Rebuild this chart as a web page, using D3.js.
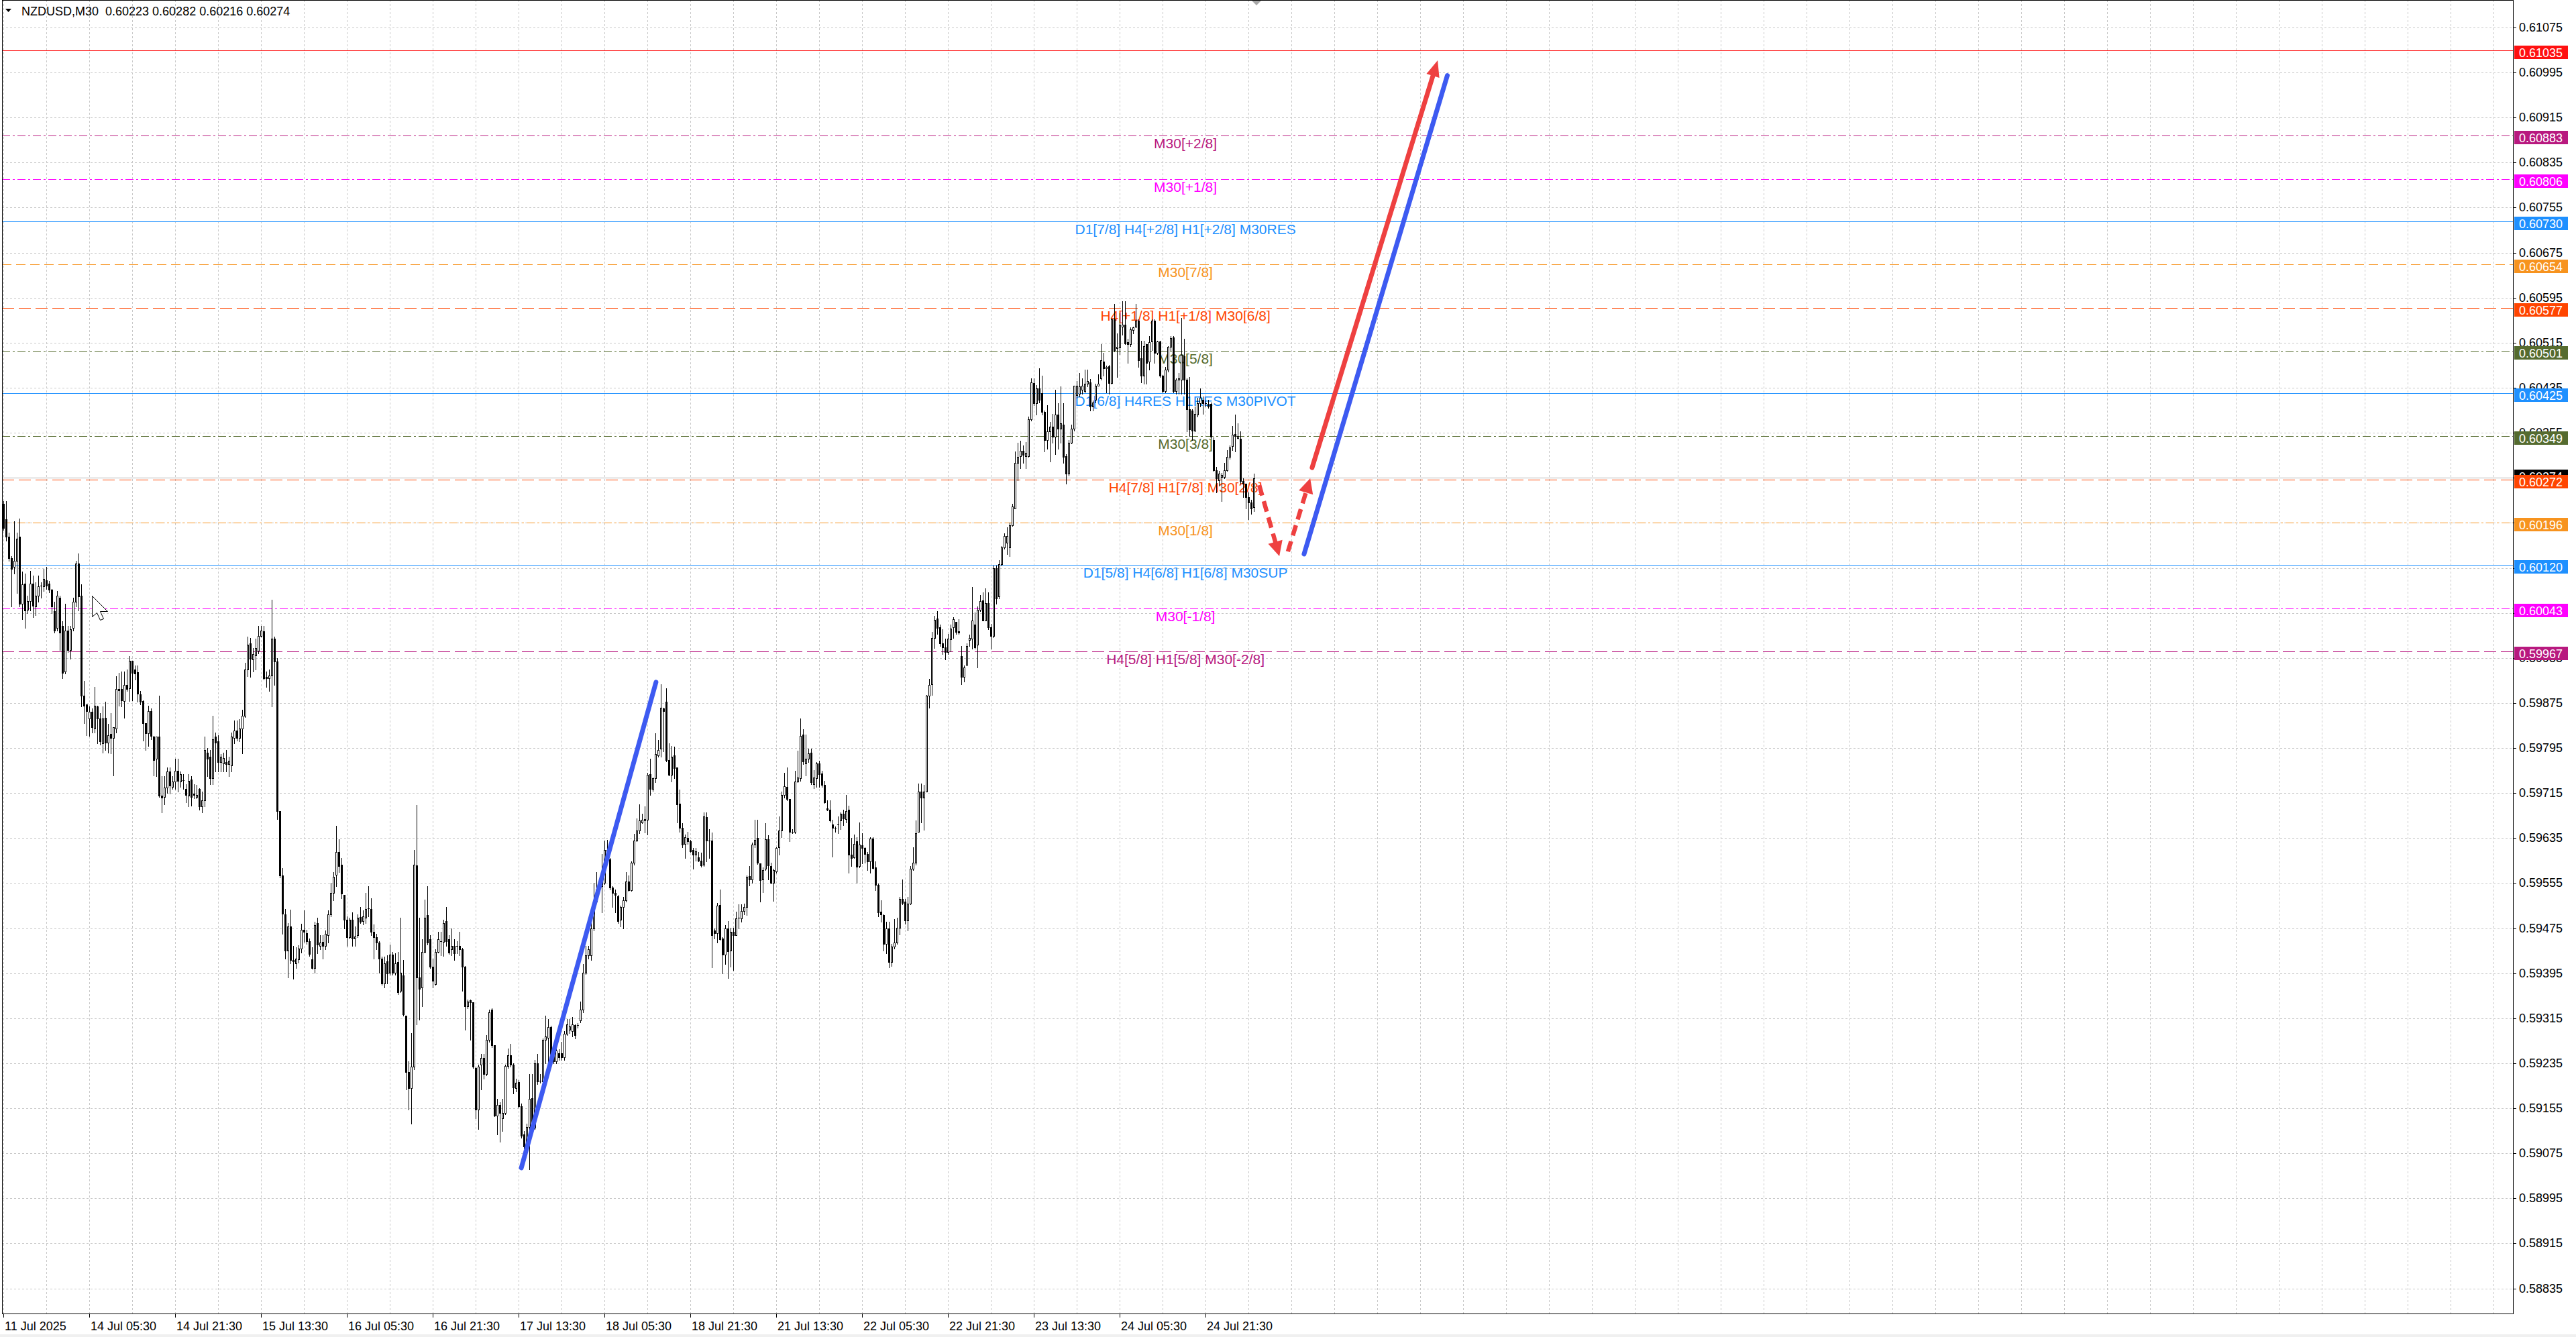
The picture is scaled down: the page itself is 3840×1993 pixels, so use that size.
<!DOCTYPE html>
<html><head><meta charset="utf-8">
<script src="https://cdn.jsdelivr.net/npm/d3@7"></script>
<style>html,body{margin:0;padding:0;background:#fff;overflow:hidden}</style>
</head><body>
<svg id="chart" width="3840" height="1993" xmlns="http://www.w3.org/2000/svg"></svg>
<script>
// ---------- DATA (prices in points: 60223 = 0.60223) ----------
const titleText = "NZDUSD,M30  0.60223 0.60282 0.60216 0.60274";
const opens = [
60229,60202,60171,60132,60117,60128,60171,60051,60087,60041,
60056,60087,60047,60066,60082,60082,60093,60087,60076,60038,
60008,60062,60012,59931,60004,59969,60008,60055,60123,60066,
59888,59873,59847,59859,59830,59869,59847,59803,59849,59805,
59820,59813,59830,59900,59900,59878,59907,59901,59950,59935,
59930,59890,59878,59839,59821,59861,59815,59776,59815,59710,
59708,59725,59753,59726,59735,59754,59736,59738,59722,59710,
59739,59714,59708,59722,59691,59702,59787,59780,59741,59815,
59807,59770,59768,59770,59766,59764,59813,59826,59813,59829,
59852,59935,59981,59952,59960,59968,59994,60002,59921,59919,
59924,59989,59949,59683,59568,59499,59435,59478,59418,59413,
59420,59439,59472,59466,59452,59420,59404,59484,59444,59450,
59443,59462,59500,59537,59570,59610,59588,59534,59490,59459,
59490,59456,59462,59495,59487,59493,59509,59509,59469,59459,
59449,59421,59377,59416,59396,59428,59396,59415,59364,59391,
59320,59219,59191,59229,59587,59387,59370,59433,59498,59455,
59406,59375,59433,59452,59450,59487,59455,59438,59444,59443,
59444,59437,59406,59336,59347,59343,59227,59153,59232,59244,
59216,59276,59330,59267,59142,59161,59137,59147,59230,59249,
59232,59191,59202,59159,59108,59089,59122,59173,59120,59235,
59204,59203,59276,59280,59299,59251,59238,59253,59253,59245,
59287,59295,59292,59303,59301,59311,59330,59396,59427,59427,
59474,59522,59544,59550,59556,59604,59597,59547,59537,59532,
59490,59512,59524,59558,59542,59591,59631,59649,59663,59666,
59668,59748,59722,59741,59782,59794,59865,59877,59774,59747,
59782,59760,59696,59653,59624,59635,59629,59614,59605,59601,
59595,59588,59672,59630,59630,59471,59466,59516,59457,59428,
59475,59435,59468,59463,59492,59492,59505,59512,59567,59561,
59623,59635,59590,59561,59580,59633,59585,59556,59576,59619,
59648,59711,59726,59704,59646,59646,59736,59741,59819,59768,
59776,59787,59731,59741,59768,59750,59729,59688,59685,59659,
59652,59659,59666,59678,59669,59685,59606,59601,59629,59585,
59622,59618,59607,59593,59634,59583,59552,59504,59498,59447,
59475,59415,59442,59449,59476,59527,59522,59489,59518,59580,
59591,59646,59718,59707,59717,59888,59908,59991,60025,60009,
59981,59974,59965,59988,60009,60019,60002,59958,59921,59943,
59987,59989,60014,59979,60041,60057,60022,60052,60009,59994,
60114,60064,60121,60151,60160,60151,60191,60221,60302,60314,
60323,60314,60313,60379,60443,60407,60434,60425,60392,60342,
60357,60366,60348,60387,60362,60369,60313,60282,60337,60362,
60422,60424,60432,60429,60442,60445,60402,60413,60439,60452,
60481,60469,60473,60443,60557,60505,60507,60544,60547,60516,
60512,60538,60544,60554,60487,60457,60512,60482,60517,60554,
60497,60517,60457,60429,60467,60508,60524,60429,60449,60449,
60491,60449,60397,60394,60359,60387,60407,60414,60406,60406,
60406,60342,60289,60271,60277,60277,60289,60312,60331,60353,
60346,60344,60269,60264,60241,60231,60223];
const highs = [
60233,60234,60178,60136,60198,60178,60203,60109,60105,60066,
60110,60101,60089,60101,60089,60113,60117,60092,60078,60055,
60074,60066,60020,60051,60012,60012,60062,60128,60141,60086,
59914,59873,59869,59865,59904,59870,59857,59869,59877,59838,
59857,59832,59923,59929,59931,59931,59935,59958,59950,59942,
59942,59896,59880,59839,59870,59865,59816,59815,59888,59745,
59745,59760,59760,59745,59776,59776,59753,59749,59731,59749,
59745,59731,59729,59723,59718,59815,59795,59791,59852,59822,
59818,59784,59787,59791,59780,59822,59844,59844,59846,59863,
59946,59993,59991,59973,59989,60012,60012,60012,59931,59935,
60058,59993,59955,59683,59582,59509,59484,59508,59443,59441,
59445,59483,59506,59472,59457,59441,59486,59493,59462,59462,
59471,59506,59556,59575,59657,59633,59600,59534,59496,59493,
59503,59478,59500,59512,59506,59537,59550,59528,59481,59465,
59452,59424,59424,59427,59446,59433,59430,59433,59493,59418,
59320,59238,59289,59614,59694,59493,59455,59526,59550,59463,
59421,59437,59469,59468,59490,59512,59462,59474,59455,59452,
59468,59440,59408,59348,59348,59343,59229,59232,59251,59251,
59285,59330,59333,59267,59172,59166,59172,59232,59261,59270,
59235,59207,59205,59163,59115,59128,59216,59216,59241,59251,
59216,59279,59320,59314,59301,59260,59270,59260,59273,59292,
59314,59314,59317,59304,59306,59345,59411,59443,59443,59487,
59556,59575,59563,59607,59631,59632,59600,59550,59544,59534,
59515,59530,59575,59569,59594,59643,59670,59695,59678,59691,
59751,59776,59743,59821,59809,59908,59867,59901,59803,59799,
59797,59761,59721,59661,59641,59646,59632,59617,59617,59610,
59609,59680,59680,59651,59645,59474,59520,59543,59459,59480,
59488,59476,59476,59504,59517,59517,59518,59568,59585,59627,
59668,59668,59590,59583,59661,59640,59591,59580,59619,59674,
59717,59751,59761,59704,59651,59755,59790,59847,59828,59819,
59794,59794,59756,59770,59772,59755,59737,59702,59702,59667,
59656,59673,59680,59685,59711,59693,59635,59641,59636,59663,
59644,59619,59610,59636,59636,59593,59554,59525,59499,59486,
59486,59447,59491,59493,59530,59561,59527,59530,59585,59619,
59666,59732,59732,59729,59889,59918,60001,60030,60038,60014,
60006,59989,59998,60014,60027,60019,60024,59976,59941,59981,
59996,60081,60036,60046,60067,60072,60079,60071,60016,60119,
60119,60129,60154,60176,60187,60196,60229,60322,60337,60341,
60332,60339,60384,60452,60452,60440,60469,60457,60394,60404,
60374,60389,60432,60407,60437,60407,60317,60342,60369,60439,
60447,60461,60452,60467,60467,60450,60412,60442,60459,60512,
60497,60474,60476,60559,60584,60532,60567,60589,60589,60522,
60542,60544,60584,60557,60519,60519,60513,60527,60557,60557,
60519,60519,60458,60472,60509,60527,60527,60452,60461,60559,
60522,60452,60454,60397,60402,60417,60434,60419,60412,60413,
60409,60347,60294,60287,60284,60302,60324,60332,60367,60387,
60372,60358,60274,60265,60249,60236,60282];
const lows = [
60182,60163,60128,60047,60105,60070,60047,60024,60008,60035,
60039,60027,60031,60055,60062,60074,60078,60072,60035,60000,
60004,59969,59919,59927,59965,59954,60004,60047,60039,59869,
59839,59818,59816,59822,59822,59803,59801,59787,59791,59787,
59785,59746,59822,59870,59869,59849,59896,59878,59880,59917,
59877,59873,59808,59791,59798,59811,59746,59745,59708,59680,
59695,59715,59714,59722,59722,59718,59726,59722,59698,59691,
59692,59706,59706,59685,59680,59691,59745,59731,59731,59753,
59753,59753,59753,59753,59745,59753,59803,59808,59807,59785,
59850,59923,59921,59931,59935,59963,59993,59917,59904,59896,
59869,59907,59669,59565,59465,59421,59387,59412,59385,59404,
59414,59431,59451,59447,59426,59403,59396,59430,59437,59421,
59437,59449,59496,59525,59550,59575,59528,59474,59443,59456,
59443,59443,59459,59484,59481,59484,59496,59462,59421,59437,
59396,59374,59370,59377,59392,59392,59392,59358,59361,59320,
59188,59153,59127,59224,59304,59312,59336,59432,59446,59404,
59369,59374,59432,59427,59425,59443,59429,59427,59418,59430,
59427,59364,59295,59333,59276,59226,59137,59118,59188,59207,
59213,59273,59263,59141,59109,59096,59115,59144,59226,59229,
59181,59185,59156,59103,59084,59084,59046,59115,59118,59198,
59200,59200,59235,59235,59232,59235,59235,59241,59241,59241,
59285,59289,59282,59279,59298,59307,59326,59393,59421,59418,
59471,59520,59537,59503,59553,59600,59544,59512,59503,59484,
59478,59474,59522,59541,59541,59588,59629,59644,59661,59645,
59641,59712,59719,59734,59780,59780,59789,59771,59746,59736,
59741,59663,59646,59619,59600,59624,59610,59581,59595,59593,
59584,59585,59593,59600,59405,59457,59449,59454,59394,59411,
59386,59406,59400,59462,59474,59486,59500,59498,59551,59556,
59619,59589,59522,59539,59578,59561,59554,59523,59573,59605,
59636,59707,59702,59629,59644,59644,59734,59737,59766,59746,
59770,59731,59724,59726,59726,59726,59697,59684,59664,59602,
59646,59644,59651,59658,59663,59573,59585,59600,59556,59583,
59590,59591,59578,59573,59580,59542,59496,59486,59435,59430,
59405,59408,59439,59447,59464,59517,59483,59471,59517,59578,
59588,59646,59663,59650,59717,59867,59889,59972,59998,59976,
59962,59952,59962,59967,59991,59998,59998,59908,59913,59941,
59976,59971,59971,59938,60038,60021,60021,60006,59971,59992,
60051,60061,60119,60149,60139,60136,60189,60221,60271,60292,
60302,60292,60312,60377,60404,60387,60409,60387,60322,60327,
60304,60337,60317,60327,60337,60302,60264,60279,60336,60359,
60417,60419,60424,60427,60437,60394,60394,60409,60438,60449,
60457,60427,60424,60442,60499,60454,60494,60529,60513,60479,
60509,60532,60542,60472,60444,60442,60442,60467,60502,60479,
60494,60454,60427,60427,60464,60502,60427,60424,60424,60424,
60424,60357,60349,60342,60357,60384,60402,60389,60402,60399,
60346,60287,60249,60261,60234,60274,60287,60309,60324,60322,
60344,60265,60241,60221,60201,60211,60216];
const closes = [
60186,60171,60132,60113,60128,60167,60051,60086,60039,60056,
60087,60048,60066,60082,60084,60095,60084,60076,60047,60004,
60066,60000,59929,60004,59969,60006,60055,60123,60064,59888,
59870,59861,59859,59832,59870,59847,59807,59847,59805,59818,
59813,59832,59900,59898,59880,59907,59900,59950,59929,59927,
59892,59877,59839,59821,59861,59816,59774,59815,59710,59707,
59725,59753,59728,59735,59754,59737,59749,59737,59712,59737,
59708,59712,59712,59691,59702,59791,59776,59741,59811,59805,
59770,59780,59777,59766,59772,59815,59826,59813,59829,59852,
59935,59979,59954,59962,59973,59994,60003,59919,59919,59924,
59989,59949,59683,59568,59501,59435,59478,59418,59416,59421,
59439,59472,59469,59452,59429,59404,59480,59446,59449,59443,
59465,59500,59537,59566,59610,59585,59536,59490,59459,59490,
59456,59460,59493,59486,59496,59509,59510,59469,59459,59449,
59421,59377,59413,59394,59428,59396,59413,59361,59396,59322,
59219,59191,59229,59588,59387,59367,59433,59493,59449,59406,
59381,59433,59455,59450,59484,59452,59432,59444,59430,59442,
59437,59406,59336,59345,59343,59229,59153,59229,59244,59216,
59276,59326,59267,59142,59161,59147,59147,59230,59249,59232,
59192,59200,59159,59106,59087,59122,59172,59118,59235,59203,
59203,59276,59282,59299,59251,59238,59257,59245,59245,59287,
59304,59300,59304,59285,59303,59330,59396,59427,59437,59474,
59522,59544,59556,59558,59614,59614,59547,59537,59534,59487,
59513,59524,59558,59542,59591,59631,59648,59666,59667,59669,
59747,59722,59741,59784,59792,59866,59860,59774,59747,59780,
59759,59695,59653,59623,59636,59629,59611,59605,59611,59595,
59586,59674,59630,59631,59463,59466,59515,59455,59428,59475,
59434,59469,59463,59492,59494,59505,59512,59566,59561,59623,
59632,59591,59560,59578,59633,59586,59556,59578,59617,59648,
59711,59727,59704,59646,59645,59736,59742,59816,59771,59776,
59786,59734,59742,59768,59748,59729,59698,59685,59666,59653,
59651,59658,59678,59670,59683,59605,59600,59625,59584,59623,
59618,59607,59593,59634,59582,59552,59503,59499,59447,59475,
59415,59442,59449,59476,59527,59520,59489,59518,59580,59591,
59644,59718,59707,59717,59888,59907,59991,60023,60008,59981,
59974,59965,59989,60007,60024,60001,60000,59921,59938,59976,
59990,60021,59974,60041,60056,60022,60052,60009,59994,60114,
60061,60121,60151,60172,60172,60191,60224,60302,60312,60323,
60316,60319,60379,60444,60407,60434,60413,60392,60342,60357,
60366,60348,60387,60362,60372,60312,60282,60337,60362,60438,
60439,60437,60439,60442,60447,60402,60409,60438,60442,60484,
60469,60472,60443,60557,60502,60508,60547,60547,60514,60512,
60539,60542,60554,60484,60457,60509,60479,60516,60554,60497,
60517,60457,60429,60467,60508,60523,60429,60449,60452,60493,
60449,60397,60361,60359,60389,60407,60417,60407,60408,60402,
60348,60289,60274,60282,60280,60289,60312,60329,60352,60349,
60349,60269,60264,60241,60231,60221,60274];

const timeTickBars = [0,32,64,96,128,160,192,224,256,288,320,352,384,416,448];
const timeTickLabels = ["11 Jul 2025","14 Jul 05:30","14 Jul 21:30","15 Jul 13:30","16 Jul 05:30","16 Jul 21:30","17 Jul 13:30","18 Jul 05:30","18 Jul 21:30","21 Jul 13:30","22 Jul 05:30","22 Jul 21:30","23 Jul 13:30","24 Jul 05:30","24 Jul 21:30"];
const priceTicks = [0.61075,0.60995,0.60915,0.60835,0.60755,0.60675,0.60595,0.60515,0.60435,0.60355,0.60275,0.60195,0.60115,0.60035,0.59955,0.59875,0.59795,0.59715,0.59635,0.59555,0.59475,0.59395,0.59315,0.59235,0.59155,0.59075,0.58995,0.58915,0.58835];

const targetLevel = 0.61035;
const bidPrice = 0.60274;
const levelValues = [0.60883,0.60806,0.60730,0.60654,0.60577,0.60501,0.60425,0.60349,0.60272,0.60196,0.60120,0.60043,0.59967];
const levelLabels = ["M30[+2/8]","M30[+1/8]","D1[7/8] H4[+2/8] H1[+2/8] M30RES","M30[7/8]","H4[+1/8] H1[+1/8] M30[6/8]","M30[5/8]","D1[6/8] H4RES H1RES M30PIVOT","M30[3/8]","H4[7/8] H1[7/8] M30[2/8]","M30[1/8]","D1[5/8] H4[6/8] H1[6/8] M30SUP","M30[-1/8]","H4[5/8] H1[5/8] M30[-2/8]"];

// drawn trend lines / arrows: [barFrom, priceFrom, barTo, priceTo]
const blueLines = [[192.9,0.59049,243.1,0.59912],[484.6,0.601395,538.0,0.609897]];
const redArrow = [487.6,0.60293,534.4,0.610166];
const redDashedArrows = [[467.9,0.60262,475.4,0.60136],[478.6,0.60144,486.9,0.60274]];
// mouse pointer left on the screenshot: [bar, price]
const cursorAt = [32.9, 0.60066];

// ---------- STYLES ----------
const DASH = "18,7", DASHDOT = "12,4,3,4";
const levelStyles = [
  {c:"#b8197f",d:DASHDOT},{c:"#ff00ff",d:DASHDOT},{c:"#1e90ff",d:null},{c:"#f7931e",d:"14,7"},
  {c:"#ff4500",d:DASH},{c:"#556b2f",d:DASHDOT},{c:"#1e90ff",d:null},{c:"#556b2f",d:DASHDOT},
  {c:"#ff4500",d:DASH},{c:"#f7931e",d:DASHDOT},{c:"#1e90ff",d:null},{c:"#ff00ff",d:DASHDOT},
  {c:"#b8197f",d:DASH}];
const FONT = "'Liberation Sans', Arial, sans-serif";

// ---------- LAYOUT ----------
const PL = 3, PR = 3746, PT = 0, PB = 1958;
const nBars = opens.length;
const x = d3.scaleLinear().domain([0, nBars - 1]).range([5.5, 5.5 + 4 * (nBars - 1)]);
const y = d3.scaleLinear().domain([0.58835, 0.61075]).range([1920.5, 41]);
const P = v => v / 100000;
const ry = p => Math.round(y(p));

const svg = d3.select("#chart");
svg.append("rect").attr("width",3840).attr("height",1993).attr("fill","#fff");
svg.append("rect").attr("x",0).attr("y",1989).attr("width",3840).attr("height",4).attr("fill","#f0f0f0");

svg.append("defs").append("clipPath").attr("id","plotclip")
  .append("rect").attr("x",PL).attr("y",PT).attr("width",PR-PL).attr("height",PB-PT);
const plot = svg.append("g").attr("clip-path","url(#plotclip)");

// grid
const gridG = plot.append("g").attr("stroke","#c8c8c8").attr("stroke-width",1).attr("stroke-dasharray","3,3");
gridG.selectAll("line.h").data(priceTicks).join("line")
  .attr("x1",PL).attr("x2",PR).attr("y1",d=>ry(d)+0.5).attr("y2",d=>ry(d)+0.5);
const vgrid = d3.range(0, 60).map(k => k*16).filter(b => x(b) < PR);
gridG.selectAll("line.v").data(vgrid).join("line")
  .attr("y1",PT).attr("y2",PB).attr("x1",d=>Math.floor(x(d))+0.5).attr("x2",d=>Math.floor(x(d))+0.5);

// level lines
plot.append("line").attr("x1",PL).attr("x2",PR).attr("y1",ry(targetLevel)+0.5).attr("y2",ry(targetLevel)+0.5)
  .attr("stroke","#ff2020").attr("stroke-width",1);
plot.selectAll("line.lvl").data(levelValues).join("line")
  .attr("x1",PL).attr("x2",PR).attr("y1",d=>ry(d)+0.5).attr("y2",d=>ry(d)+0.5)
  .attr("stroke",(d,i)=>levelStyles[i].c).attr("stroke-width",1)
  .attr("stroke-dasharray",(d,i)=>levelStyles[i].d);
plot.append("line").attr("x1",PL).attr("x2",PR).attr("y1",ry(bidPrice)-0.5).attr("y2",ry(bidPrice)-0.5)
  .attr("stroke","#b4b4b4").attr("stroke-width",1);

// level texts
const labelBar = 440.4;
plot.selectAll("text.lvl").data(levelValues).join("text")
  .attr("x",x(labelBar)).attr("y",d=>ry(d)+19).attr("text-anchor","middle")
  .attr("font-family",FONT).attr("font-size",21).attr("fill",(d,i)=>levelStyles[i].c)
  .text((d,i)=>levelLabels[i]);

// candles
const cg = plot.append("g");
const idx = d3.range(nBars);
cg.selectAll("line.w").data(idx).join("line")
  .attr("x1",i=>Math.floor(x(i))+0.5).attr("x2",i=>Math.floor(x(i))+0.5)
  .attr("y1",i=>ry(P(highs[i]))).attr("y2",i=>ry(P(lows[i]))+1)
  .attr("stroke","#000").attr("stroke-width",1);
idx.forEach(i=>{
  const px = Math.floor(x(i));
  const yo = ry(P(opens[i])), yc = ry(P(closes[i]));
  const top = Math.min(yo,yc), bot = Math.max(yo,yc);
  if (bot - top < 2) {
    cg.append("rect").attr("x",px-1).attr("y",top).attr("width",3).attr("height",1).attr("fill","#000");
  } else if (closes[i] < opens[i]) {
    cg.append("rect").attr("x",px-1).attr("y",top).attr("width",3).attr("height",bot-top+1).attr("fill","#000");
  } else {
    cg.append("rect").attr("x",px-0.5).attr("y",top+0.5).attr("width",2).attr("height",bot-top)
      .attr("fill","#fff").attr("stroke","#000").attr("stroke-width",1);
  }
});

// trend lines and arrows
const pt = (b,p) => [x(b), y(p)];
const blueC = "#3d5af1", redC = "#ee4040";
plot.selectAll("line.blue").data(blueLines).join("line")
  .attr("x1",d=>x(d[0])).attr("y1",d=>y(d[1])).attr("x2",d=>x(d[2])).attr("y2",d=>y(d[3]))
  .attr("stroke",blueC).attr("stroke-width",7).attr("stroke-linecap","round");

function arrow(d, opts){
  const [x1,y1] = pt(d[0],d[1]), [x2,y2] = pt(d[2],d[3]);
  const dx = x2-x1, dy = y2-y1, L = Math.hypot(dx,dy), ux = dx/L, uy = dy/L;
  const hl = opts.headLen, hw = opts.headHalf;
  const bx = x2 - ux*hl, by = y2 - uy*hl;
  plot.append("line").attr("x1",x1).attr("y1",y1).attr("x2",bx+ux*2).attr("y2",by+uy*2)
    .attr("stroke",redC).attr("stroke-width",opts.w).attr("stroke-linecap",opts.cap)
    .attr("stroke-dasharray",opts.dash);
  plot.append("polygon").attr("fill",redC)
    .attr("points",[[x2,y2],[bx-uy*hw,by+ux*hw],[bx+uy*hw,by-ux*hw]].map(p=>p.join(",")).join(" "));
}
arrow(redArrow,{w:7,cap:"round",dash:null,headLen:24,headHalf:10});
redDashedArrows.forEach(d=>arrow(d,{w:6.5,cap:"butt",dash:"16,9",headLen:22,headHalf:11}));

// mouse pointer
{
  const [cx0, cy0] = [Math.round(x(cursorAt[0])), ry(cursorAt[1])];
  const shape = [[0,0],[0,31],[7,25],[12,36],[17,34],[12,23],[23,23]];
  plot.append("polygon").attr("points",shape.map(p=>[cx0+p[0]+0.5, cy0+p[1]+0.5].join(",")).join(" "))
    .attr("fill","#fff").attr("stroke","#000").attr("stroke-width",1);
}

// frame
svg.append("rect").attr("x",PL+0.5).attr("y",PT+0.5).attr("width",PR-PL).attr("height",PB-PT)
  .attr("fill","none").attr("stroke","#000").attr("stroke-width",1);
svg.append("polygon").attr("points","1866,1 1880,1 1873,8").attr("fill","#a8a8a8");

// right axis ticks & labels
const ax = svg.append("g");
ax.selectAll("line.t").data(priceTicks).join("line")
  .attr("x1",PR).attr("x2",PR+5).attr("y1",d=>ry(d)+0.5).attr("y2",d=>ry(d)+0.5).attr("stroke","#000");
ax.selectAll("text.t").data(priceTicks).join("text")
  .attr("x",PR+9).attr("y",d=>ry(d)+6).attr("font-family",FONT).attr("font-size",18).attr("fill","#000")
  .text(d=>d.toFixed(5));

function priceBox(v, color, dy){
  const yy = ry(v) + 3 + (dy||0);
  ax.append("rect").attr("x",PR+2).attr("y",yy-10).attr("width",80).attr("height",20).attr("fill",color);
  ax.append("text").attr("x",PR+9).attr("y",yy+6.5).attr("font-family",FONT).attr("font-size",18)
    .attr("fill","#fff").text(v.toFixed(5));
}
priceBox(targetLevel,"#ff1010");
priceBox(bidPrice,"#000",-6);
levelValues.forEach((v,i)=>priceBox(v, levelStyles[i].c));

// time axis
const tg = svg.append("g");
tg.selectAll("line").data(timeTickBars).join("line")
  .attr("x1",d=>Math.floor(x(d))+0.5).attr("x2",d=>Math.floor(x(d))+0.5)
  .attr("y1",PB).attr("y2",PB+6).attr("stroke","#000");
tg.selectAll("text").data(timeTickBars).join("text")
  .attr("x",d=>Math.floor(x(d))+2).attr("y",1983).attr("font-family",FONT).attr("font-size",18)
  .attr("fill","#000").text((d,i)=>timeTickLabels[i]);

// title
svg.append("polygon").attr("points","8,13 17,13 12.5,18").attr("fill","#000");
svg.append("text").attr("x",32).attr("y",22.5).attr("font-family",FONT).attr("font-size",18)
  .attr("fill","#000").attr("xml:space","preserve").style("white-space","pre").text(titleText);
</script>
</body></html>
